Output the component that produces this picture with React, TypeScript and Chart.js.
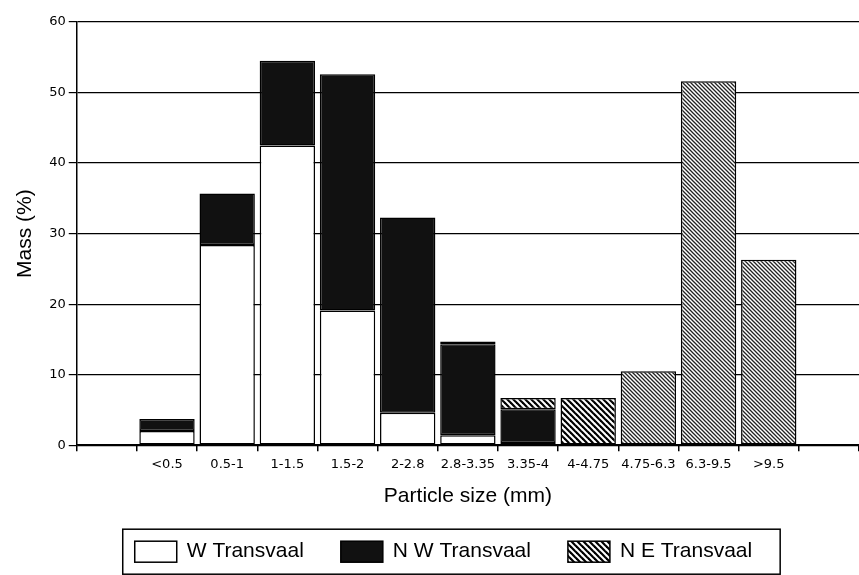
import React, { useEffect, useRef } from "react";
import { Chart, registerables } from "chart.js";

Chart.register(...registerables);

const categories = ["", "<0.5", "0.5-1", "1-1.5", "1.5-2", "2-2.8", "2.8-3.35", "3.35-4", "4-4.75", "4.75-6.3", "6.3-9.5", ">9.5", ""];
const wTransvaal = [null, 2.0, 28.4, 42.5, 19.1, 4.6, 1.4, 0.3, null, null, null, null, null];
const nwTransvaal = [null, 1.7, 7.3, 12.0, 33.5, 27.7, 12.9, 4.8, null, null, null, null, null];
const neTransvaal = [null, null, null, null, null, null, 0.4, 1.6, 6.7, 10.5, 51.6, 26.3, null];
// hatch style per category: "coarse" dense black hatch, "fine" grey hatch
const neHatch = ["fine", "fine", "fine", "fine", "fine", "fine", "coarse", "coarse", "coarse", "fine", "fine", "fine", "fine"];
const yTicks = [0, 10, 20, 30, 40, 50, 60];
const seriesNames = ["W Transvaal", "N W Transvaal", "N E Transvaal"];

const SANS = "'Liberation Sans', Arial, Helvetica, sans-serif";
const TICKFONT = "'DejaVu Sans', 'Liberation Sans', sans-serif";

function makeHatch(size: number, lw: number, color: string): CanvasPattern | string {
  const c = document.createElement("canvas");
  c.width = size;
  c.height = size;
  const ctx = c.getContext("2d");
  if (!ctx) return "#888";
  ctx.fillStyle = "#ffffff";
  ctx.fillRect(0, 0, size, size);
  ctx.strokeStyle = color;
  ctx.lineWidth = lw;
  ctx.lineCap = "square";
  for (const off of [-size, 0, size]) {
    ctx.beginPath();
    ctx.moveTo(-size, -size + off);
    ctx.lineTo(2 * size, 2 * size + off);
    ctx.stroke();
  }
  const p = ctx.createPattern(c, "repeat");
  return p || "#888";
}

export default function App() {
  const ref = useRef<HTMLCanvasElement>(null);
  useEffect(() => {
    document.body.style.margin = "0";
    const canvas = ref.current;
    if (!canvas) return;
    const coarse = makeHatch(6, 2.2, "#000");
    const fine = makeHatch(4, 1.3, "#222");
    const neBg = neHatch.map((h) => (h === "coarse" ? coarse : fine));
    const legendFills: any[] = ["#ffffff", "#111111", coarse];

    const customLegend = {
      id: "customLegend",
      afterDraw(chart: any) {
        const ctx = chart.ctx;
        const area = chart.chartArea;
        ctx.save();
        ctx.font = `21px ${SANS}`;
        const boxW = 42;
        const boxH = 21;
        const textGap = 10;
        const itemGap = 37;
        const widths = seriesNames.map((n) => ctx.measureText(n).width);
        const total = widths.reduce((a, b) => a + b, 0) + seriesNames.length * (boxW + textGap) + itemGap * (seriesNames.length - 1);
        let x = area.left + 58;
        const top = area.bottom + 84;
        const borderL = x - 12;
        const borderR = x + total + 28;
        ctx.strokeStyle = "#000";
        ctx.lineWidth = 1.5;
        ctx.strokeRect(borderL, top, borderR - borderL, 45);
        const boxTop = top + 12;
        seriesNames.forEach((n, i) => {
          ctx.fillStyle = legendFills[i];
          ctx.fillRect(x, boxTop, boxW, boxH);
          ctx.strokeStyle = "#000";
          ctx.lineWidth = 1.5;
          ctx.strokeRect(x, boxTop, boxW, boxH);
          ctx.fillStyle = "#000";
          ctx.textBaseline = "middle";
          ctx.textAlign = "left";
          ctx.fillText(n, x + boxW + textGap, boxTop + boxH / 2);
          x += boxW + textGap + widths[i] + itemGap;
        });
        ctx.restore();
      },
    };

    const chart = new Chart(canvas, {
      type: "bar",
      data: {
        labels: categories,
        datasets: [
          { label: seriesNames[0], data: wTransvaal, backgroundColor: "#ffffff", borderColor: "#000", borderWidth: 1.5, borderSkipped: false },
          { label: seriesNames[1], data: nwTransvaal, backgroundColor: "#111111", borderColor: "#000", borderWidth: 1.5, borderSkipped: false },
          { label: seriesNames[2], data: neTransvaal, backgroundColor: neBg as any, borderColor: "#000", borderWidth: 1.5, borderSkipped: false },
        ] as any,
      },
      options: {
        animation: false,
        responsive: false,
        maintainAspectRatio: false,
        datasets: { bar: { barPercentage: 0.92, categoryPercentage: 1 } },
        layout: { padding: { left: 10, right: 0, top: 22, bottom: 62 } },
        scales: {
          x: {
            stacked: true,
            offset: true,
            grid: { display: true, drawOnChartArea: false, drawTicks: true, tickLength: 6, color: "#000", lineWidth: 1.5, offset: true },
            border: { display: true, color: "#000", width: 1.5 },
            ticks: { color: "#000", font: { family: TICKFONT, size: 13 }, maxRotation: 0, minRotation: 0, autoSkip: false, padding: 6 },
            title: { display: true, text: "Particle size (mm)", color: "#000", font: { family: SANS, size: 21 }, padding: { top: 5, bottom: 4 } },
          },
          y: {
            stacked: true,
            min: 0,
            max: 60,
            afterBuildTicks: (axis: any) => {
              axis.ticks = yTicks.map((v) => ({ value: v }));
            },
            grid: { color: "#000", lineWidth: 1.2, drawTicks: true, tickLength: 8 },
            border: { display: true, color: "#000", width: 1.5 },
            ticks: { color: "#000", font: { family: TICKFONT, size: 13 }, padding: 3 },
            title: { display: true, text: "Mass (%)", color: "#000", font: { family: SANS, size: 21 }, padding: { top: 3, bottom: 8 } },
          },
        },
        plugins: {
          tooltip: { enabled: false },
          legend: { display: false },
        },
      },
      plugins: [customLegend],
    });
    return () => chart.destroy();
  }, []);
  return (
    <div style={{ width: 859, height: 575 }}>
      <canvas ref={ref} width={859} height={575} style={{ display: "block" }} />
    </div>
  );
}
